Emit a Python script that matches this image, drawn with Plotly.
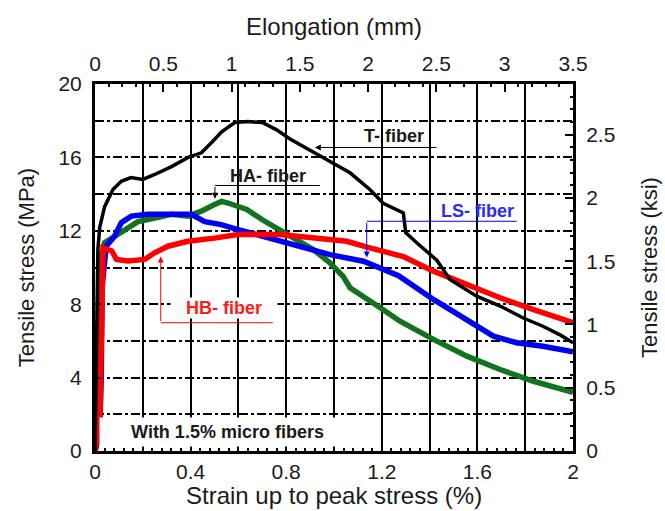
import plotly.graph_objects as go

# ---------------- data ----------------
T_strain = [0, 0.004, 0.008, 0.012, 0.02, 0.04, 0.075, 0.11, 0.15, 0.2, 0.25, 0.32, 0.39, 0.445,
            0.487, 0.53, 0.585, 0.64, 0.70, 0.76, 0.816, 0.9, 0.983, 1.067, 1.15, 1.206, 1.29,
            1.30, 1.346, 1.43, 1.485, 1.597, 1.695, 1.79, 1.874, 1.95, 2.0]
T_stress = [0, 4.0, 9.0, 11.0, 12.2, 13.3, 14.25, 14.7, 14.9, 14.8, 15.07, 15.5, 16.0, 16.25,
            16.8, 17.4, 17.9, 17.95, 17.9, 17.5, 17.0, 16.4, 15.8, 15.16, 14.25, 13.5, 12.98,
            11.9, 11.35, 10.4, 9.35, 8.44, 7.9, 7.26, 6.8, 6.3, 5.9]

HB_strain = [0, 0.01, 0.02, 0.025, 0.03, 0.034, 0.054, 0.07, 0.09, 0.138, 0.208, 0.25, 0.305,
             0.389, 0.5, 0.598, 0.774, 0.913, 1.053, 1.15, 1.29, 1.416, 1.556, 1.695, 1.835, 2.0]
HB_stress = [0, 0.6, 1.5, 5.0, 9.5, 11.07, 10.98, 10.9, 10.44, 10.35, 10.44, 10.8, 11.16,
             11.43, 11.6, 11.8, 11.8, 11.6, 11.43, 11.07, 10.6, 9.8, 9.07, 8.35, 7.7, 7.0]

LS_strain = [0, 0.02, 0.026, 0.03, 0.047, 0.082, 0.11, 0.152, 0.222, 0.32, 0.403, 0.459, 0.528,
             0.598, 0.70, 0.844, 0.983, 1.123, 1.27, 1.416, 1.556, 1.667, 1.764, 1.874, 2.0]
LS_stress = [0, 1.0, 4.0, 9.0, 11.16, 11.7, 12.44, 12.8, 12.9, 12.9, 12.9, 12.5, 12.34,
             12.07, 11.7, 11.16, 10.7, 10.34, 9.55, 8.26, 7.17, 6.26, 5.9, 5.71, 5.4]

HA_strain = [0, 0.01, 0.018, 0.022, 0.04, 0.11, 0.18, 0.25, 0.32, 0.39, 0.445, 0.5, 0.53, 0.56,
             0.635, 0.70, 0.774, 0.844, 0.913, 0.983, 1.039, 1.067, 1.206, 1.276, 1.416, 1.556,
             1.695, 1.835, 2.0]
HA_stress = [0, 0.5, 3.0, 10.5, 11.35, 11.9, 12.5, 12.7, 12.9, 12.8, 13.07, 13.43, 13.6, 13.5,
             13.16, 12.6, 12.07, 11.5, 10.98, 10.26, 9.5, 8.9, 7.7, 7.07, 6.08, 5.17,
             4.44, 3.8, 3.2]

strain_ticks = [0, 0.4, 0.8, 1.2, 1.6, 2.0]
strain_ticktext = ["0", "0.4", "0.8", "1.2", "1.6", "2"]
stress_ticks = [0, 4, 8, 12, 16, 20]
elong_ticks = [0, 0.5, 1, 1.5, 2, 2.5, 3, 3.5]
ksi_ticks = [0, 0.5, 1, 1.5, 2, 2.5]

STRAIN_MAX = 2.0
STRESS_MAX = 20.0
ELONG_MAX = 3.5
MPA_TO_KSI = 0.145038

FONT = "Liberation Sans, Arial, sans-serif"
TXT = "#1a1a1a"

fig = go.Figure()

def curve(x, y, color, width):
    fig.add_trace(go.Scatter(x=x, y=y, mode="lines", line=dict(color=color, width=width),
                             showlegend=False, hoverinfo="skip"))

curve(HA_strain, HA_stress, "#12731f", 5.5)
curve(LS_strain, LS_stress, "#0000f0", 5.5)
curve(HB_strain, HB_stress, "#ff0000", 5.5)
curve(T_strain, T_stress, "#000000", 3.5)

# helper traces so the secondary axes are drawn
fig.add_trace(go.Scatter(x=[0, ELONG_MAX], y=[0, 0], xaxis="x2", yaxis="y", mode="lines",
                         line=dict(width=0), showlegend=False, hoverinfo="skip"))
fig.add_trace(go.Scatter(x=[0, STRAIN_MAX], y=[0, 0], xaxis="x3", yaxis="y", mode="lines",
                         line=dict(width=0), showlegend=False, hoverinfo="skip"))
fig.add_trace(go.Scatter(x=[0, STRAIN_MAX], y=[0, 0], xaxis="x", yaxis="y2", mode="lines",
                         line=dict(width=0), showlegend=False, hoverinfo="skip"))

tickfont = dict(family=FONT, size=21, color=TXT)

fig.update_layout(
    width=665, height=511,
    margin=dict(l=95, r=92, t=84, b=60),
    paper_bgcolor="white", plot_bgcolor="white",
    xaxis=dict(range=[0, STRAIN_MAX], tickvals=strain_ticks, ticktext=strain_ticktext,
               automargin=False,
               ticks="inside", ticklen=6, tickwidth=2, tickcolor="black",
               showline=True, linewidth=3, linecolor="black", zeroline=False,
               showgrid=True, gridcolor="black", gridwidth=1.6,
               minor=dict(dtick=0.2, tick0=0, ticks="inside", ticklen=6, tickwidth=2,
                          tickcolor="black", showgrid=True, gridcolor="black", gridwidth=1.6),
               tickfont=tickfont, ticklabelstandoff=0),
    xaxis2=dict(range=[0, ELONG_MAX], overlaying="x", side="top", anchor="y",
                automargin=False,
                tickvals=elong_ticks, ticks="inside", ticklen=8, tickwidth=2, tickcolor="black",
                showline=True, linewidth=3, linecolor="black", zeroline=False, showgrid=False,
                minor=dict(dtick=0.1, tick0=0, ticks="inside", ticklen=3, tickwidth=1.5,
                           tickcolor="black"),
                tickfont=tickfont, ticklabelstandoff=2,
                title=dict(text="Elongation (mm)", font=dict(family=FONT, size=24, color=TXT),
                           standoff=10)),
    xaxis3=dict(range=[0, STRAIN_MAX], overlaying="x", side="bottom", anchor="y",
                automargin=False,
                dtick=0.04, tick0=0, ticks="inside", ticklen=3, tickwidth=1.5, tickcolor="black",
                showticklabels=False, showline=False, showgrid=False, zeroline=False),
    yaxis=dict(range=[0, STRESS_MAX], tickvals=stress_ticks, ticks="inside", ticklen=6,
               automargin=False,
               tickwidth=2, tickcolor="black",
               showline=True, linewidth=3, linecolor="black", zeroline=False,
               showgrid=True, gridcolor="black", gridwidth=2, griddash="dashdot",
               minor=dict(dtick=2, tick0=0, showgrid=True, gridcolor="black", gridwidth=2,
                          griddash="dashdot"),
               tickfont=tickfont, ticklabelstandoff=6,
               title=dict(text="Tensile stress (MPa)", font=dict(family=FONT, size=22, color=TXT),
                          standoff=18)),
    yaxis2=dict(range=[0, STRESS_MAX * MPA_TO_KSI], overlaying="y", side="right", anchor="x",
                automargin=False,
                tickvals=ksi_ticks, ticks="inside", ticklen=8, tickwidth=2, tickcolor="black",
                showline=True, linewidth=3, linecolor="black", zeroline=False, showgrid=False,
                minor=dict(dtick=0.1, tick0=0, ticks="inside", ticklen=3, tickwidth=1.5,
                           tickcolor="black"),
                tickfont=tickfont, ticklabelstandoff=6,
                title=dict(text="Tensile stress (ksi)", font=dict(family=FONT, size=22, color=TXT),
                           standoff=28)),
)

# bottom axis title (placed as paper annotation to keep it clear of the tick labels)
fig.add_annotation(x=0.5, y=-0.1608, xref="paper", yref="paper", yanchor="bottom",
                   text="Strain up to peak stress (%)", showarrow=False, borderpad=0,
                   font=dict(family=FONT, size=24, color=TXT))

# ---------------- annotations ----------------
LAB = 18

# T- fiber
fig.add_annotation(x=0.92, y=16.54, ax=1.435, ay=16.54, axref="x", ayref="y", xref="x", yref="y",
                   showarrow=True, arrowhead=2, arrowsize=1.2, arrowwidth=1, arrowcolor="black", text="")
fig.add_annotation(x=1.25, y=17.19, text="<b>T- fiber</b>", showarrow=False,
                   font=dict(family=FONT, size=LAB, color=TXT))

# HA- fiber
fig.add_shape(type="line", x0=0.502, x1=0.941, y0=14.47, y1=14.47, xref="x", yref="y",
              line=dict(color="black", width=1))
fig.add_annotation(x=0.502, y=13.75, ax=0.502, ay=14.47, axref="x", ayref="y", xref="x", yref="y",
                   showarrow=True, arrowhead=2, arrowsize=1.2, arrowwidth=1, arrowcolor="black", text="")
fig.add_annotation(x=0.724, y=15.01, text="<b>HA- fiber</b>", showarrow=False,
                   font=dict(family=FONT, size=LAB, color=TXT))

# LS- fiber
fig.add_shape(type="line", x0=1.137, x1=1.764, y0=12.52, y1=12.52, xref="x", yref="y",
              line=dict(color="#0000f0", width=1))
fig.add_annotation(x=1.137, y=10.55, ax=1.137, ay=12.52, axref="x", ayref="y", xref="x", yref="y",
                   showarrow=True, arrowhead=2, arrowsize=1.2, arrowwidth=1, arrowcolor="#0000f0", text="")
fig.add_annotation(x=1.60, y=13.1, text="<b>LS- fiber</b>", showarrow=False,
                   font=dict(family=FONT, size=LAB, color="#2a2aff"))

# HB- fiber
fig.add_shape(type="line", x0=0.275, x1=0.744, y0=6.99, y1=6.99, xref="x", yref="y",
              line=dict(color="#ff0000", width=1))
fig.add_annotation(x=0.275, y=10.6, ax=0.275, ay=6.99, axref="x", ayref="y", xref="x", yref="y",
                   showarrow=True, arrowhead=2, arrowsize=1.2, arrowwidth=1, arrowcolor="#ff0000", text="")
fig.add_annotation(x=0.538, y=7.77, text="<b>HB- fiber</b>", showarrow=False,
                   font=dict(family=FONT, size=LAB, color="#ff1a1a"), bgcolor="white",
                   width=106, height=20, borderpad=0)

# note
fig.add_annotation(x=0.555, y=1.06, text="<b>With 1.5% micro fibers</b>", showarrow=False,
                   font=dict(family=FONT, size=LAB, color=TXT), bgcolor="white",
                   width=255, height=28, borderpad=0)

fig.write_html("out.html")
